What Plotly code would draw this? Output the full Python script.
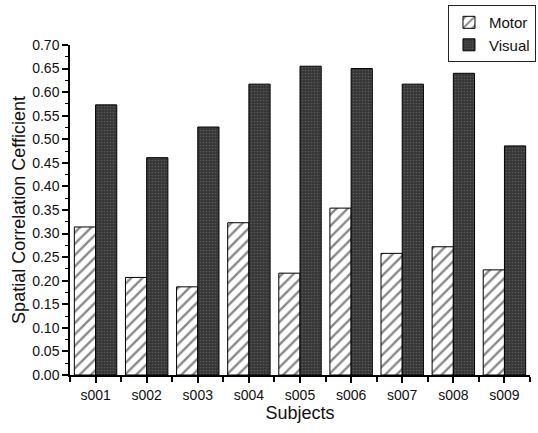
import plotly.graph_objects as go

subjects = ["s001", "s002", "s003", "s004", "s005", "s006", "s007", "s008", "s009"]
motor = [0.314, 0.207, 0.187, 0.323, 0.216, 0.354, 0.258, 0.272, 0.223]
visual = [0.573, 0.461, 0.526, 0.617, 0.655, 0.650, 0.617, 0.640, 0.486]
y_ticks = [round(i * 0.05, 2) for i in range(15)]

xpos = list(range(len(subjects)))

fig = go.Figure()
fig.add_trace(go.Bar(
    x=xpos, y=motor, name="Motor",
    marker=dict(color="white", line=dict(color="black", width=1),
                pattern=dict(shape="/", fgcolor="#111", bgcolor="white", size=8, solidity=0.3)),
))
fig.add_trace(go.Bar(
    x=xpos, y=visual, name="Visual",
    marker=dict(color="#3a3a3a", line=dict(color="black", width=1),
                pattern=dict(shape=".", fgcolor="#7a7a7a", bgcolor="#363636", size=3, solidity=0.25)),
))

font = "Liberation Sans, Arial, sans-serif"
fig.update_layout(
    width=538, height=433,
    margin=dict(l=70, r=8, t=45, b=58, autoexpand=False),
    paper_bgcolor="white", plot_bgcolor="white",
    barmode="group", bargap=0.17, bargroupgap=0,
    font=dict(family=font, size=13, color="#111"),
    showlegend=True,
    legend=dict(x=1.013, y=1.121, xanchor="right", yanchor="top",
                bordercolor="#222", borderwidth=1, bgcolor="white",
                font=dict(size=15, color="#111"), tracegroupgap=0,
                itemwidth=30),
    xaxis=dict(
        range=[-0.5, 8.5], tickmode="array", tickvals=xpos, ticktext=subjects,
        showline=True, linecolor="black", linewidth=1.5, showgrid=False, zeroline=False,
        ticks="outside", ticklen=6, tickcolor="black", tickwidth=1.5,
        tickfont=dict(size=14, color="#111"),
        minor=dict(tickvals=[i + 0.5 for i in range(-1, 9)], ticks="outside", ticklen=5,
                   tickcolor="black", tickwidth=1.5, showgrid=False),
        title=dict(text="Subjects", font=dict(size=18, color="#111"), standoff=4),
    ),
    yaxis=dict(
        range=[0, 0.70], tickmode="array", tickvals=y_ticks,
        ticktext=[f"{v:.2f}" for v in y_ticks],
        showline=True, linecolor="black", linewidth=1.5, showgrid=False, zeroline=False,
        ticks="outside", ticklen=6, tickcolor="black", tickwidth=1.5,
        tickfont=dict(size=14, color="#111"),
        minor=dict(dtick=0.025, ticks="outside", ticklen=3, tickcolor="black", tickwidth=1, showgrid=False),
        title=dict(text="Spatial Correlation Cefficient", font=dict(size=18, color="#111"), standoff=2),
    ),
)

fig.write_html("out.html", config={"displayModeBar": False},
               post_script="document.body.style.margin='0';document.body.style.overflow='hidden';")
